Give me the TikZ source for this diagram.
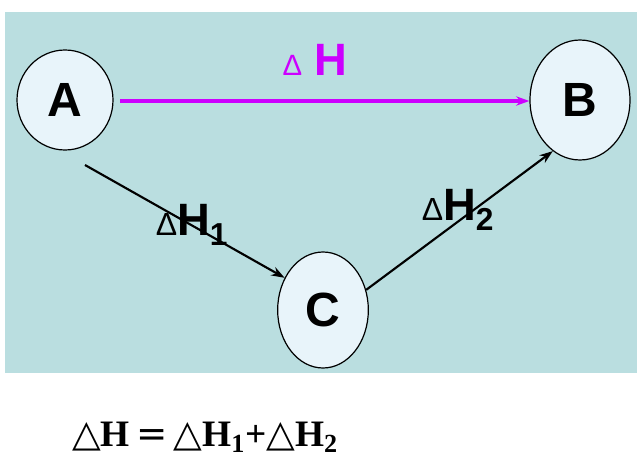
\documentclass[tikz,border=0pt]{standalone}
\usepackage{fontspec}
\setmainfont{Liberation Sans}
\newfontfamily\serifb{Liberation Serif}
\newfontfamily\tri{DejaVu Sans}
\usetikzlibrary{shapes.geometric,arrows.meta}
\begin{document}
\begin{tikzpicture}[x=0.75pt,y=-0.75pt,
  st/.style={ellipse,draw=black,line width=0.9pt,fill=nodefill,inner sep=0pt,font=\fontsize{36}{38}\selectfont\bfseries},
  arr/.style={-{Stealth[length=10pt,width=7pt]},line width=1.6pt}]
\definecolor{bg}{RGB}{186,222,224}
\definecolor{nodefill}{RGB}{232,244,250}
\definecolor{mag}{RGB}{204,0,255}
\useasboundingbox (0,0) rectangle (640,464);
\fill[bg] (5,12) rectangle (637,373);
\node[st,minimum width=72pt,minimum height=75pt] (A) at (65,100) {A};
\node[st,minimum width=75pt,minimum height=90pt] (B) at (580,100) {B};
\node[st,minimum width=68pt,minimum height=87pt] (C) at (323,310) {C};
\coordinate (a1) at (120,101);
\coordinate (a2) at (85,165);
\draw[arr,mag,line width=2.4pt] (a1) -- (B.west|-a1);
\node[text=mag,font=\fontsize{34}{36}\selectfont\bfseries] (l0) at (315,60) {{\fontsize{22}{24}\selectfont\mdseries Δ} H};
\draw[arr] (a2) -- (C.140);
\draw[arr] (C.25) -- (B.-118);
\node[font=\fontsize{34}{36}\selectfont\bfseries] (l1) at (192,225) {{\fontsize{24}{26}\selectfont\mdseries Δ}H\textsubscript{1}};
\node[font=\fontsize{34}{36}\selectfont\bfseries] (l2) at (458,210) {{\fontsize{24}{26}\selectfont\mdseries Δ}H\textsubscript{2}};
\node[font=\serifb\fontsize{28}{30}\selectfont\bfseries] (eq) at (205,437) {{\tri\mdseries △}H\,{\tri\mdseries =}\,{\tri\mdseries △}H\textsubscript{1}+{\tri\mdseries △}H\textsubscript{2}};
\end{tikzpicture}
\end{document}
